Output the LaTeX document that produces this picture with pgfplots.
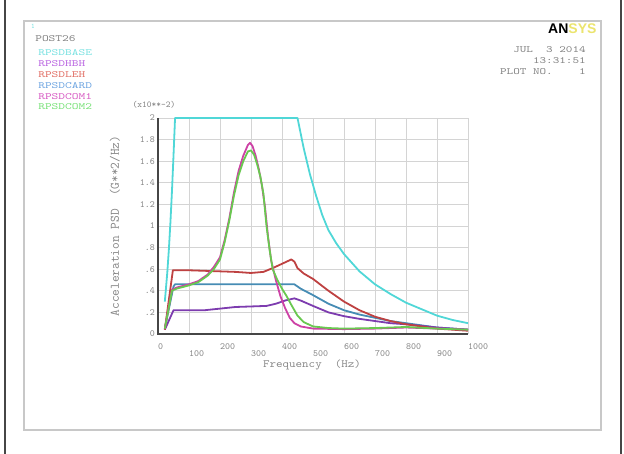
\documentclass[border=0pt]{standalone}
\usepackage{fontspec}
\newfontfamily\logofont{Liberation Sans}
\usepackage{pgfplots}
\pgfplotsset{compat=1.18}
\definecolor{textgray}{RGB}{130,130,130}
\definecolor{gridgray}{RGB}{212,212,212}
\definecolor{framegray}{RGB}{200,200,200}
\definecolor{axdark}{RGB}{70,70,70}
\definecolor{cBase}{RGB}{80,215,215}
\definecolor{cHBH}{RGB}{125,60,175}
\definecolor{cLEH}{RGB}{190,65,65}
\definecolor{cCARD}{RGB}{70,140,180}
\definecolor{cCOM1}{RGB}{205,65,165}
\definecolor{cCOM2}{RGB}{105,200,80}
\definecolor{lBase}{RGB}{120,225,225}
\definecolor{lHBH}{RGB}{185,100,225}
\definecolor{lLEH}{RGB}{225,110,100}
\definecolor{lCARD}{RGB}{110,165,225}
\definecolor{lCOM1}{RGB}{215,90,195}
\definecolor{lCOM2}{RGB}{120,225,120}
\definecolor{logoyellow}{RGB}{235,228,110}
\tikzset{hdr/.style={anchor=west, inner sep=0pt, xscale=1.35, font=\ttfamily\fontsize{9.5}{10}\selectfont},
         hdrr/.style={anchor=east, inner sep=0pt, xscale=1.32, font=\ttfamily\fontsize{9.5}{10}\selectfont, text=textgray}}
\begin{document}
\begin{tikzpicture}[x=1pt,y=1pt]
\path[use as bounding box] (0,0) rectangle (624,454);
% outer frame lines
\draw[line width=2pt, axdark] (5,0) -- (5,454);
\draw[line width=2pt, axdark] (621,0) -- (621,454);
% inner gray frame
\draw[line width=1.6pt, framegray] (24,24) rectangle (601,433);
% header texts
\node[anchor=west, inner sep=0pt, font=\ttfamily\fontsize{7}{8}\selectfont, text=lBase] at (31,428) {1};
\node[hdr, text=textgray] at (35,415) {POST26};
\node[hdr, text=lBase] at (38,401) {RPSDBASE};
\node[hdr, text=lHBH] at (38,390.2) {RPSDHBH};
\node[hdr, text=lLEH] at (38,379.4) {RPSDLEH};
\node[hdr, text=lCARD] at (38,368.6) {RPSDCARD};
\node[hdr, text=lCOM1] at (38,357.8) {RPSDCOM1};
\node[hdr, text=lCOM2] at (38,347) {RPSDCOM2};
% logo
\node[anchor=west, inner sep=0pt, font=\logofont\bfseries\fontsize{14}{14}\selectfont] at (548,425) {AN\textcolor{logoyellow}{SYS}};
\node[hdrr] at (586,404) {JUL\ \ 3 2014};
\node[hdrr] at (586,393.2) {13:31:51};
\node[hdrr] at (586,382.4) {PLOT NO.\ \ \ \ 1};
% axis labels
\node[inner sep=0pt, font=\ttfamily\fontsize{9}{9}\selectfont, text=textgray] at (154,349) {(x10**-2)};
\node[inner sep=0pt, xscale=1.15, font=\ttfamily\fontsize{11}{12}\selectfont, text=textgray] at (312,89.5) {Frequency\ \ (Hz)};
\node[inner sep=0pt, rotate=90, font=\ttfamily\fontsize{13}{14}\selectfont, text=textgray] at (115,228) {Acceleration PSD\ \ (G**2/Hz)};
\begin{axis}[
  at={(158pt,120pt)}, anchor=south west,
  scale only axis, width=310pt, height=216pt,
  xmin=0, xmax=1000, ymin=0, ymax=2,
  clip=false,
  axis line style={draw=none},
  grid=major, grid style={color=gridgray, line width=0.9pt},
  major tick length=0pt,
  xtick={0,200,400,600,800,1000},
  xticklabels={0,200,400,600,800,1000},
  extra x ticks={100,300,500,700,900},
  extra x tick labels={100,300,500,700,900},
  extra x tick style={grid=major, xticklabel style={yshift=-7pt}},
  ytick={0,0.2,0.4,0.6,0.8,1,1.2,1.4,1.6,1.8,2},
  yticklabels={0,.2,.4,.6,.8,1,1.2,1.4,1.6,1.8,2},
  ticklabel style={font=\ttfamily\fontsize{9.5}{10}\selectfont, text=textgray},
  xticklabel style={anchor=north west, inner sep=0pt, yshift=-9pt},
  yticklabel style={anchor=east, inner sep=0pt, xshift=-3pt},
  every axis plot/.append style={line width=1.8pt, line join=round},
]
% RPSDBASE
\addplot[cBase] coordinates {(22,0.30)(30,0.57)(35,0.78)(40,1.03)(45,1.32)(50,1.65)(55,2.0)(450,2.0)(470,1.72)(490,1.48)(510,1.28)(530,1.10)(550,0.96)(575,0.84)(600,0.74)(650,0.58)(700,0.46)(750,0.37)(800,0.29)(850,0.23)(900,0.17)(950,0.13)(1000,0.10)};
% RPSDCARD
\addplot[cCARD] coordinates {(22,0.05)(50,0.44)(55,0.46)(100,0.46)(200,0.46)(300,0.46)(400,0.46)(440,0.46)(460,0.42)(500,0.36)(550,0.28)(600,0.22)(650,0.18)(700,0.15)(750,0.12)(800,0.10)(850,0.08)(900,0.06)(950,0.05)(1000,0.04)};
% RPSDHBH
\addplot[cHBH] coordinates {(22,0.04)(50,0.22)(100,0.22)(150,0.22)(200,0.235)(250,0.25)(300,0.255)(350,0.26)(380,0.28)(410,0.31)(440,0.33)(460,0.31)(500,0.26)(550,0.20)(600,0.165)(650,0.14)(700,0.12)(750,0.10)(800,0.09)(850,0.075)(900,0.06)(950,0.05)(1000,0.04)};
% RPSDLEH
\addplot[cLEH] coordinates {(22,0.04)(48,0.59)(100,0.59)(150,0.585)(200,0.58)(250,0.575)(300,0.565)(340,0.575)(370,0.61)(400,0.65)(430,0.69)(440,0.67)(450,0.61)(470,0.56)(500,0.51)(550,0.40)(600,0.30)(650,0.22)(700,0.16)(750,0.12)(800,0.09)(850,0.07)(900,0.05)(950,0.04)(1000,0.03)};
% RPSDCOM1
\addplot[cCOM1] coordinates {(22,0.05)(45,0.41)(60,0.43)(100,0.46)(130,0.49)(160,0.55)(180,0.62)(200,0.71)(215,0.87)(230,1.07)(245,1.31)(260,1.51)(275,1.65)(290,1.75)(297,1.77)(305,1.74)(315,1.65)(325,1.53)(335,1.38)(345,1.18)(355,0.90)(365,0.68)(380,0.50)(395,0.35)(410,0.24)(425,0.15)(440,0.10)(460,0.07)(500,0.05)(600,0.045)(700,0.05)(800,0.06)(900,0.05)(1000,0.04)};
% RPSDCOM2
\addplot[cCOM2] coordinates {(22,0.05)(45,0.40)(60,0.42)(100,0.45)(130,0.48)(160,0.54)(180,0.60)(200,0.69)(215,0.85)(230,1.05)(245,1.28)(260,1.47)(275,1.60)(290,1.69)(300,1.70)(310,1.66)(320,1.57)(330,1.46)(340,1.30)(350,1.00)(360,0.78)(370,0.60)(385,0.50)(400,0.42)(415,0.35)(430,0.27)(450,0.17)(470,0.11)(500,0.07)(550,0.055)(600,0.05)(700,0.055)(800,0.065)(900,0.05)(1000,0.04)};
\draw[line width=2.4pt, axdark] (rel axis cs:0,1) -- (rel axis cs:0,0) -- (rel axis cs:1,0);
\end{axis}
\end{tikzpicture}
\end{document}
